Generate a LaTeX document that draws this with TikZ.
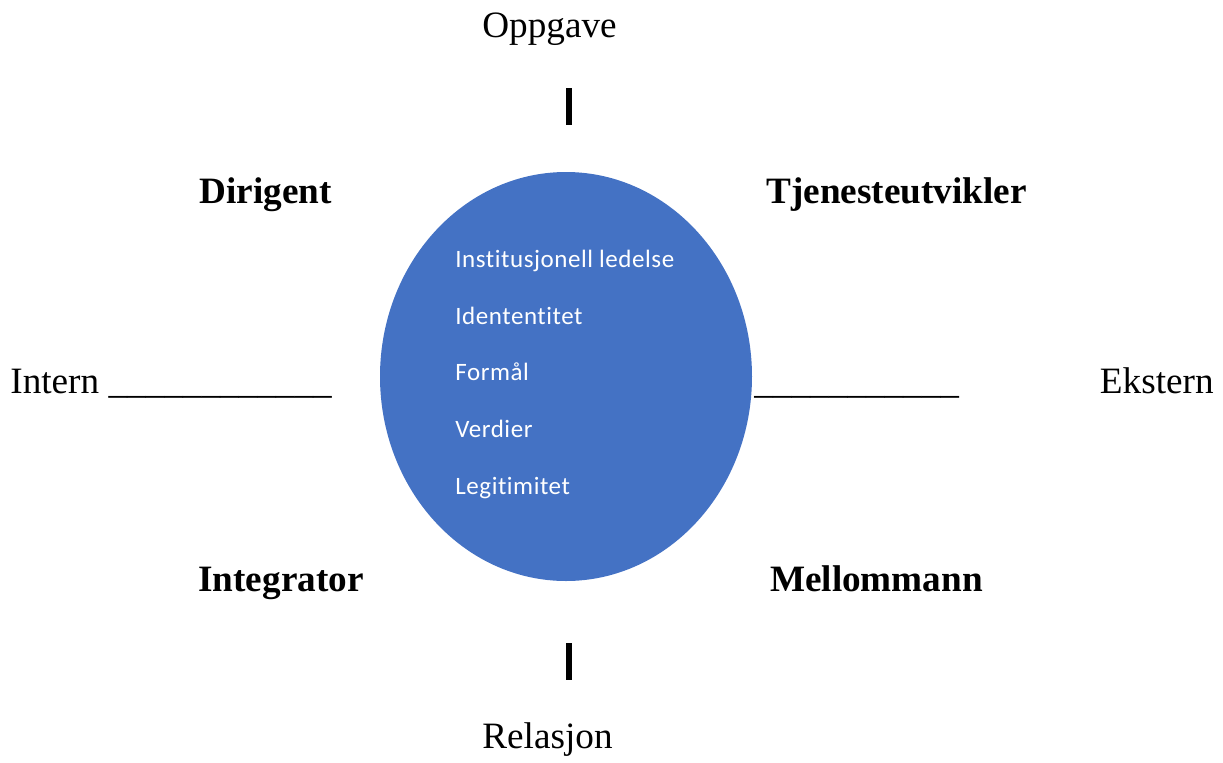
\documentclass[tikz,border=0pt]{standalone}
\usepackage{fontspec}
\setmainfont{Liberation Serif}
\newfontfamily\calibrifont[Ligatures=CommonOff, LetterSpace=2.2]{Carlito}
\usetikzlibrary{positioning, calc, shapes.geometric}

\definecolor{ovalblue}{HTML}{4472C4}

\begin{document}
\begin{tikzpicture}[
  x=0.5pt, y=-0.5pt,
  font=\fontsize{18.6}{22}\selectfont
]
% -------------------- Styles --------------------
\tikzset{
  axislabel/.style={anchor=base, inner sep=0pt},
  role/.style={anchor=base, inner sep=0pt, font=\fontsize{18.6}{22}\selectfont\bfseries},
  bar/.style={fill=black, draw=none, inner sep=0pt, minimum width=3pt, minimum height=18.5pt},
  item/.style={anchor=base west, inner sep=0pt, text=white,
    font=\calibrifont\fontsize{12.5}{15}\selectfont}
}

\useasboundingbox (0,0) rectangle (1223,762);

% -------------------- Centre oval --------------------
\node[ellipse, fill=ovalblue, minimum width=186pt, minimum height=204.5pt, inner sep=0pt]
  (oval) at (566,376.5) {};

\node[item] (inst)  at (455,267) {Institusjonell ledelse};
\node[item] (ident) at (455,324) {Idententitet};
\node[item] (form)  at (455,380) {Formål};
\node[item] (verd)  at (455,437) {Verdier};
\node[item] (legit) at (455,494) {Legitimitet};

% -------------------- Vertical axis --------------------
\node[axislabel] (oppgave)  at (549.5,37) {Oppgave};
\node[bar] (topbar) at (569,106.5) {};
\node[bar] (botbar) at (569,661.5) {};
\node[axislabel] (relasjon) at (547.5,748) {Relasjon};

% -------------------- Horizontal axis --------------------
\node[axislabel, anchor=base west] (intern) at (10,393) {Intern \_\_\_\_\_\_\_\_\_\_\_\_};
\node[axislabel, anchor=base west] (rline)  at (754,393) {\_\_\_\_\_\_\_\_\_\_\_};
\node[axislabel, anchor=base east] (ekstern) at (1214,393) {Ekstern};

% -------------------- Roles --------------------
\node[role] (dirigent)   at (265.5,203) {Dirigent};
\node[role] (tjeneste)   at (896.5,203) {Tjenesteutvikler};
\node[role] (integrator) at (281,591) {Integrator};
\node[role] (mellommann) at (876.5,591) {Mellommann};

\end{tikzpicture}
\end{document}
